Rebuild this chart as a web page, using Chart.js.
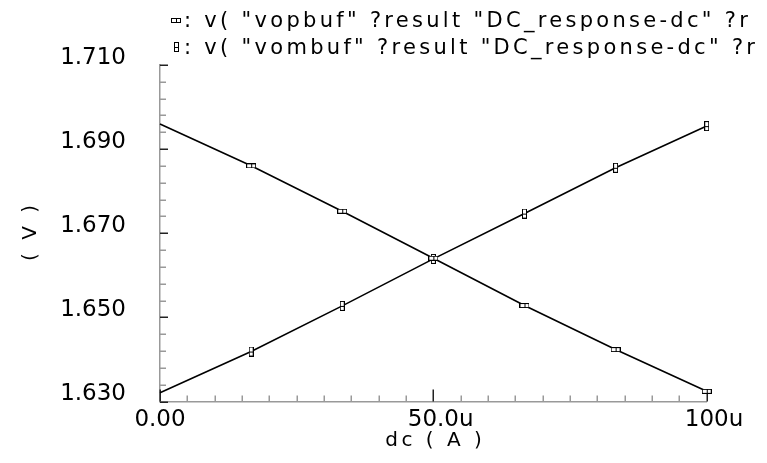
<!DOCTYPE html>
<html>
<head>
<meta charset="utf-8">
<script src="https://cdn.jsdelivr.net/npm/chart.js@4.4.1/dist/chart.umd.min.js"></script>
<style>
  html, body { margin: 0; padding: 0; background: #fff; }
  #wrap { width: 767px; height: 463px; position: relative; }
</style>
</head>
<body>
<div id="wrap"><canvas id="c"></canvas></div>
<script>
// DC sweep of the input current (µA) and the two buffer outputs (V)
const dcCurrent = [0, 16.67, 33.33, 50, 66.67, 83.33, 100];
const vopbuf = [1.69595, 1.68603, 1.67524, 1.66406, 1.65281, 1.64234, 1.63242];
const vombuf = [1.63210, 1.64188, 1.65273, 1.66390, 1.67468, 1.68556, 1.69548];

const yTickValues = [1.630, 1.650, 1.670, 1.690, 1.710];
const yTickLabels = ['1.630', '1.650', '1.670', '1.690', '1.710'];
const xTickValues = [0, 50, 100];
const xTickLabels = ['0.00', '50.0u', '100u'];

const seriesLabels = [
  ': v( "vopbuf" ?result "DC_response-dc" ?r',
  ': v( "vombuf" ?result "DC_response-dc" ?r'
];
const xTitle = 'dc ( A )';
const yTitle = '( V )';

const Y_MIN = 1.630, Y_MAX = 1.710, Y_MINOR = 0.004;
const X_MIN = 0, X_MAX = 100, X_MINOR = 5;

const FONT = '"DejaVu Sans", "Liberation Sans", sans-serif';

// Small outlined box markers: horizontal one for vopbuf, vertical one for vombuf
function makeMarker(w, h, vertical) {
  const c = document.createElement('canvas');
  c.width = w; c.height = h;
  const g = c.getContext('2d');
  g.fillStyle = '#fff';
  g.fillRect(0, 0, w, h);
  g.strokeStyle = '#000';
  g.lineWidth = 1;
  g.strokeRect(0.5, 0.5, w - 1, h - 1);
  g.beginPath();
  if (vertical) {
    g.moveTo(0, Math.floor(h / 2) + 0.5); g.lineTo(w, Math.floor(h / 2) + 0.5);
  } else {
    g.moveTo(Math.floor(w / 2) + 0.5, 0); g.lineTo(Math.floor(w / 2) + 0.5, h);
  }
  g.stroke();
  return c;
}
const hMarker = makeMarker(10, 5, false);
const vMarker = makeMarker(5, 10, true);
const markerRadius = [0, 3, 3, 3, 3, 3, 3];

function points(ys) {
  return dcCurrent.map((x, i) => ({ x: x, y: ys[i] }));
}

// Inward tick marks, axis labels, titles and the trace legend
const decor = {
  id: 'decor',
  beforeDatasetsDraw(chart) {
    const { ctx, chartArea: a, scales: { x, y } } = chart;
    ctx.save();
    ctx.lineWidth = 1.5;
    const ny = Math.round((Y_MAX - Y_MIN) / Y_MINOR);
    for (let i = 0; i <= ny; i++) {
      const v = Y_MIN + i * Y_MINOR;
      const major = i % 5 === 0;
      const py = Math.round(y.getPixelForValue(v)) + 0.25;
      ctx.strokeStyle = major ? '#222' : '#999';
      ctx.beginPath();
      ctx.moveTo(a.left, py);
      ctx.lineTo(a.left + (major ? 8 : 6), py);
      ctx.stroke();
    }
    const nx = Math.round((X_MAX - X_MIN) / X_MINOR);
    for (let i = 0; i <= nx; i++) {
      const v = X_MIN + i * X_MINOR;
      const major = i % 10 === 0;
      const px = Math.round(x.getPixelForValue(v)) + 0.25;
      ctx.strokeStyle = major ? '#222' : '#999';
      ctx.beginPath();
      ctx.moveTo(px, a.bottom);
      ctx.lineTo(px, a.bottom - (major ? 12 : 6));
      ctx.stroke();
    }
    ctx.restore();
  },
  afterDraw(chart) {
    const { ctx, chartArea: a, scales: { x } } = chart;
    ctx.save();
    ctx.fillStyle = '#000';

    // x tick labels: numeric part centred on the tick, unit suffix trailing
    ctx.font = '23px ' + FONT;
    ctx.textAlign = 'left';
    ctx.textBaseline = 'alphabetic';
    xTickValues.forEach((v, i) => {
      const lab = xTickLabels[i];
      const num = lab.replace(/u$/, '');
      const px = x.getPixelForValue(v);
      ctx.fillText(lab, px - ctx.measureText(num).width / 2, a.bottom + 24);
    });

    // axis titles
    ctx.font = '20px ' + FONT;
    ctx.letterSpacing = '3.5px';
    ctx.textAlign = 'center';
    ctx.fillText(xTitle, (a.left + a.right) / 2 + 2, a.bottom + 44);
    ctx.save();
    ctx.translate(36, (a.top + a.bottom) / 2);
    ctx.rotate(-Math.PI / 2);
    ctx.fillText(yTitle, 2, 0);
    ctx.restore();

    // trace legend
    ctx.font = '21px ' + FONT;
    ctx.letterSpacing = '3.3px';
    ctx.textAlign = 'left';
    const markers = [hMarker, vMarker];
    seriesLabels.forEach((t, i) => {
      const base = 27 + i * 27;
      const m = markers[i];
      ctx.drawImage(m, Math.round(176 - m.width / 2), Math.round(base - 7 - m.height / 2));
      ctx.fillText(t, 184, base);
    });
    ctx.restore();
  }
};

new Chart(document.getElementById('c'), {
  type: 'line',
  data: {
    datasets: [
      {
        label: 'vopbuf',
        data: points(vopbuf),
        borderColor: '#000',
        borderWidth: 1.6,
        pointStyle: hMarker,
        pointRadius: markerRadius,
        tension: 0,
        fill: false,
        clip: false
      },
      {
        label: 'vombuf',
        data: points(vombuf),
        borderColor: '#000',
        borderWidth: 1.6,
        pointStyle: vMarker,
        pointRadius: markerRadius,
        tension: 0,
        fill: false,
        clip: false
      }
    ]
  },
  options: {
    responsive: true,
    maintainAspectRatio: false,
    animation: false,
    events: [],
    layout: { padding: { top: 65, right: 60.3, bottom: 0, left: 0 } },
    plugins: {
      legend: { display: false },
      tooltip: { enabled: false },
      title: { display: false }
    },
    scales: {
      x: {
        type: 'linear',
        min: X_MIN,
        max: X_MAX,
        afterBuildTicks: s => { s.ticks = xTickValues.map(v => ({ value: v })); },
        ticks: { display: false },
        grid: { display: false, drawTicks: false },
        border: { display: true, color: '#999', width: 1.5 },
        afterFit: s => { s.height = 61.5; }
      },
      y: {
        type: 'linear',
        min: Y_MIN,
        max: Y_MAX,
        afterBuildTicks: s => { s.ticks = yTickValues.map(v => ({ value: v })); },
        ticks: {
          callback: (v, i) => yTickLabels[i],
          font: { family: FONT, size: 23 },
          color: '#000',
          padding: 34,
          labelOffset: -7,
          autoSkip: false
        },
        grid: { display: false, drawTicks: false },
        border: { display: true, color: '#999', width: 1.5 },
        afterFit: s => { s.width = 160; }
      }
    }
  },
  plugins: [decor]
});
</script>
</body>
</html>
